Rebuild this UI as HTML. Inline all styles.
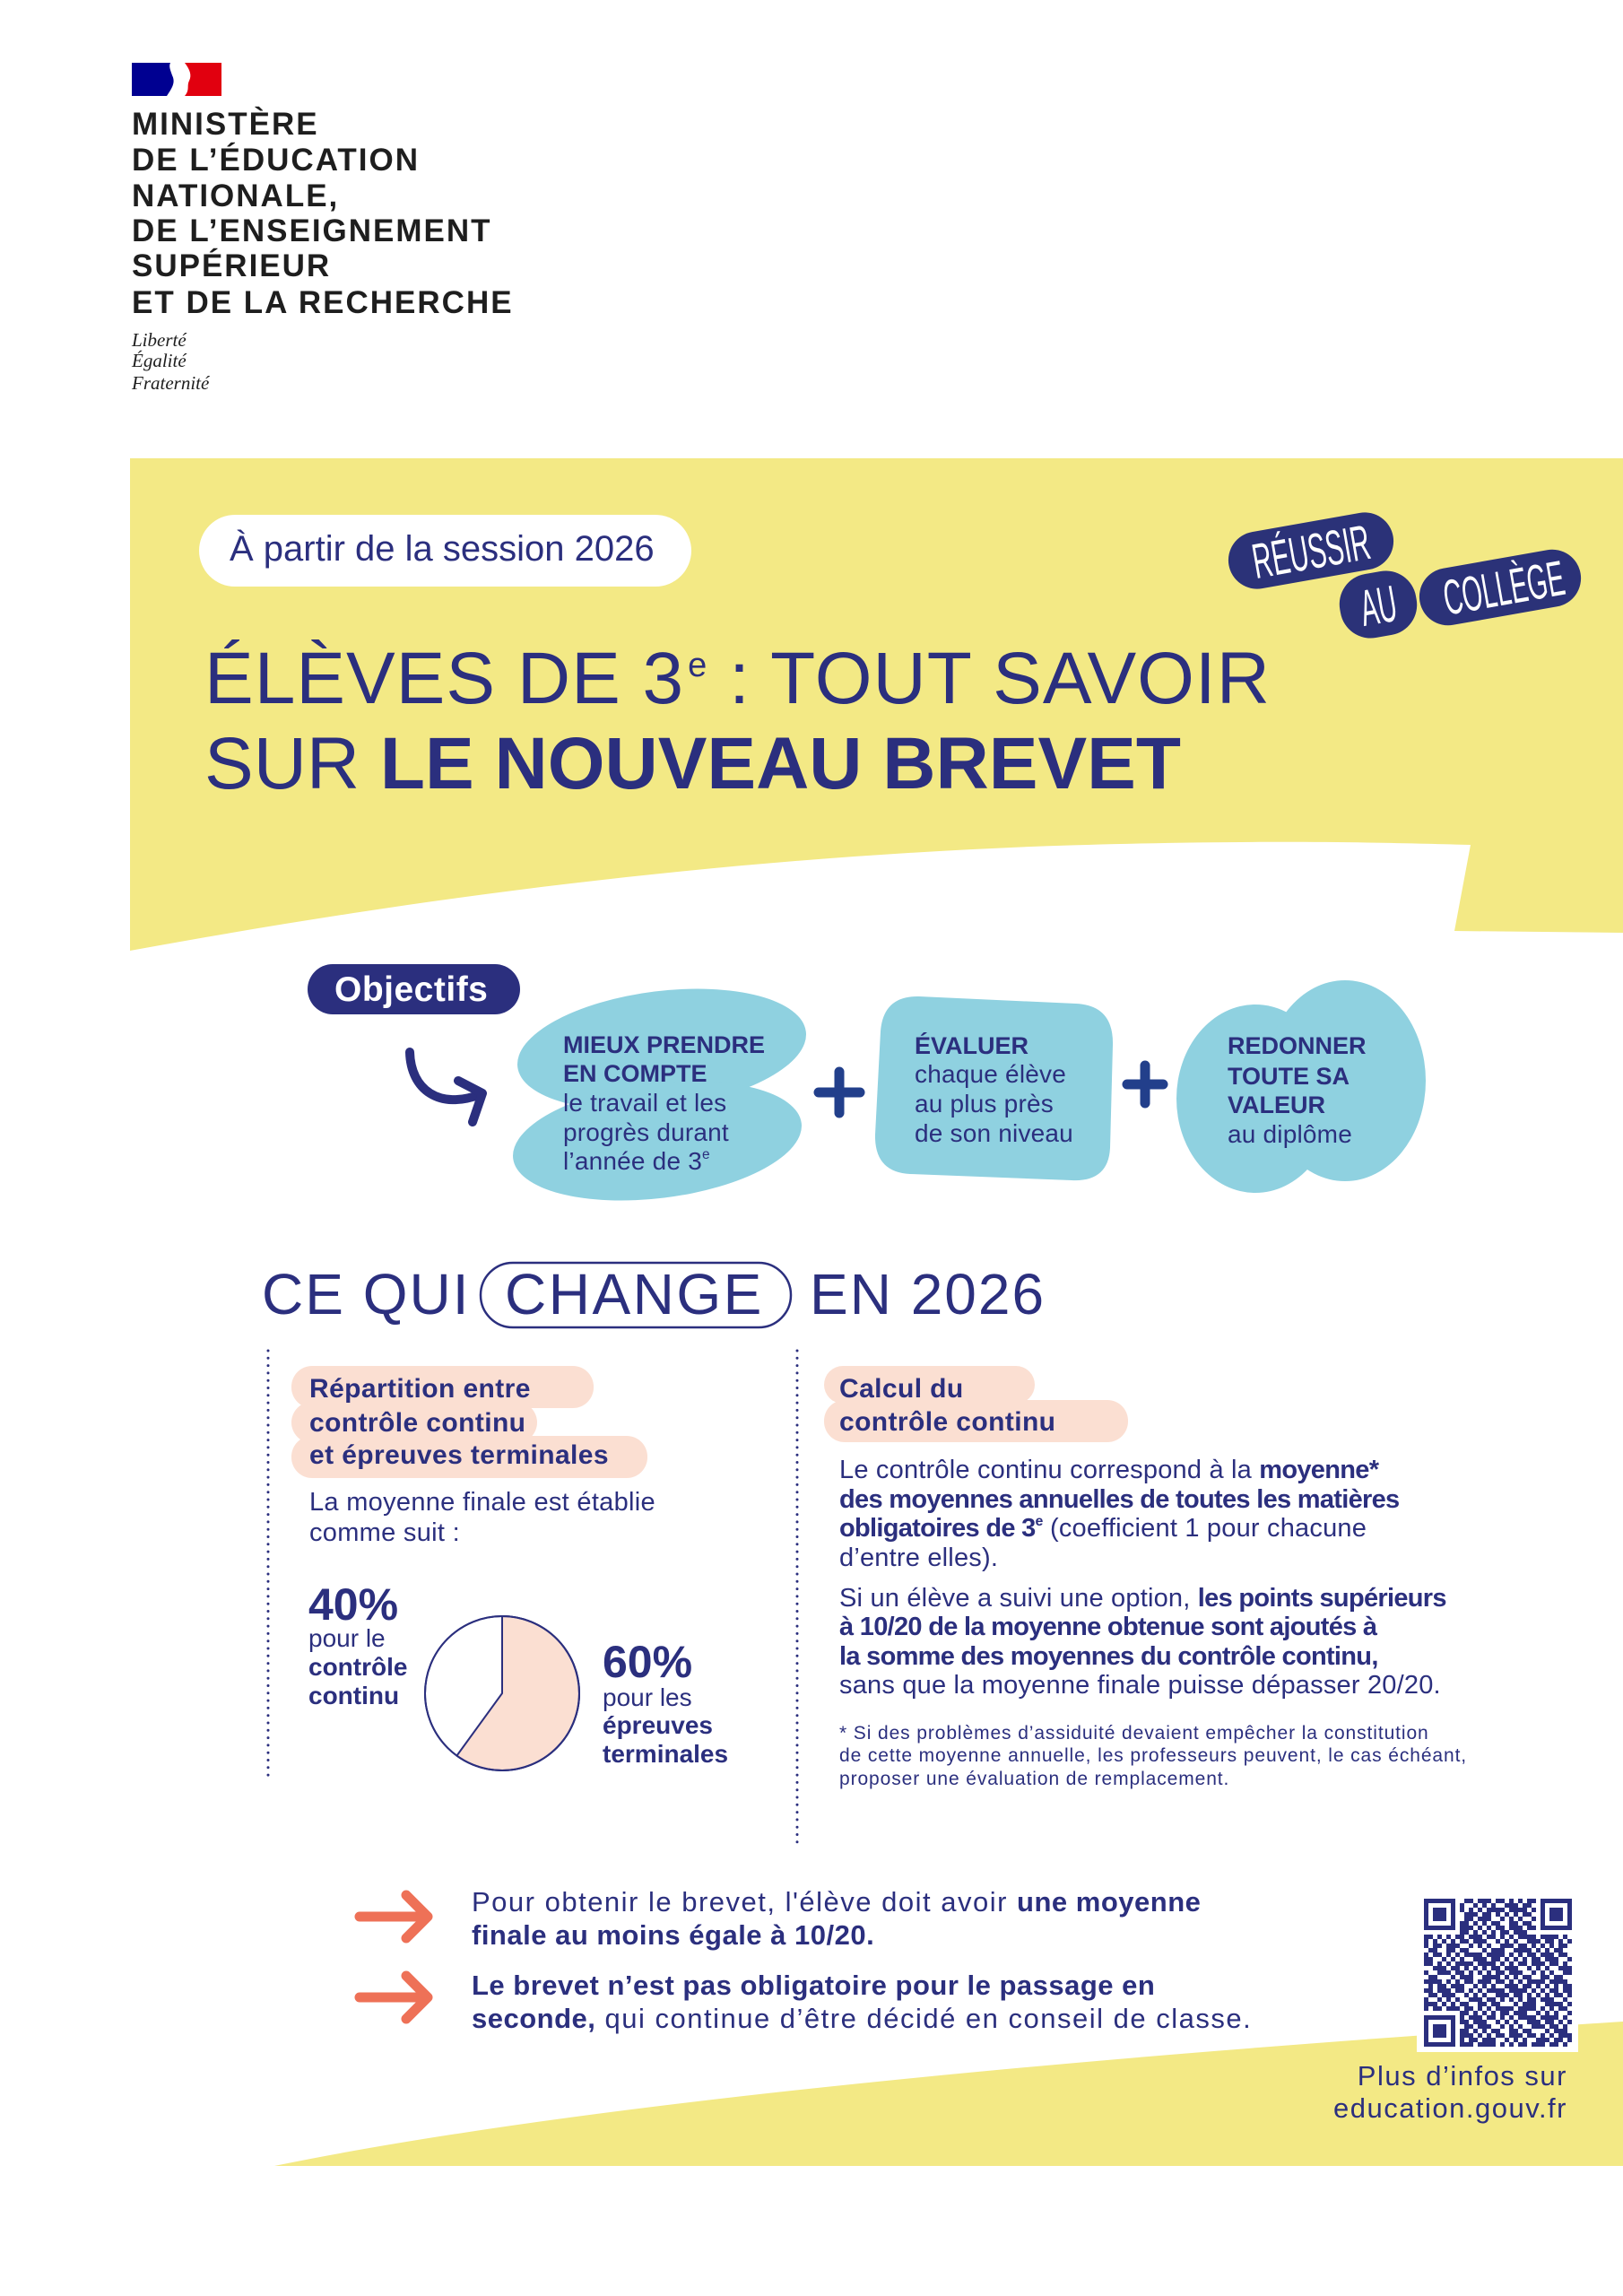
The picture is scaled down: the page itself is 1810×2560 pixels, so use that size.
<!DOCTYPE html>
<html><head><meta charset="utf-8">
<style>
body{margin:0;padding:0;background:#fff}
#p{position:relative;width:1810px;height:2560px;overflow:hidden;background:#fff;font-family:"Liberation Sans",sans-serif;color:#2b2f7e}
.t{position:absolute;white-space:nowrap;line-height:1}
.lg{font-size:35px;font-weight:700;letter-spacing:2px;color:#1e1e1e;left:147px}
.dv{font-family:"Liberation Serif",serif;font-style:italic;font-size:21px;color:#1e1e1e;left:147px}
.bb{font-size:27px;font-weight:700}
.br{font-size:28px;letter-spacing:0.2px}
.pk{font-size:30px;font-weight:700;letter-spacing:0.4px}
.rp{font-size:29px;letter-spacing:0.2px}
.rp b{letter-spacing:-0.7px}
.fn{font-size:21px;letter-spacing:0.9px;left:936px}
.bt{font-size:31px;letter-spacing:1.5px;left:526px}
.bt b{letter-spacing:0.5px}
.sp{font-size:0.55em;position:relative;top:-0.75em}
b{font-weight:700}
</style></head>
<body><div id="p">
<svg width="1810" height="2560" style="position:absolute;left:0;top:0" xmlns="http://www.w3.org/2000/svg">
<defs>
<pattern id="qa" x="1588" y="2117" width="35" height="30" patternUnits="userSpaceOnUse">
<g fill="#2b2f7e">
<rect x="0" y="0" width="5" height="5"/><rect x="10" y="0" width="5" height="5"/><rect x="15" y="0" width="5" height="5"/><rect x="25" y="0" width="5" height="5"/>
<rect x="5" y="5" width="5" height="5"/><rect x="20" y="5" width="5" height="5"/><rect x="30" y="5" width="5" height="5"/>
<rect x="0" y="10" width="5" height="5"/><rect x="5" y="10" width="5" height="5"/><rect x="15" y="10" width="5" height="5"/><rect x="25" y="10" width="5" height="5"/>
<rect x="10" y="15" width="5" height="5"/><rect x="20" y="15" width="5" height="5"/><rect x="30" y="15" width="5" height="5"/>
<rect x="0" y="20" width="5" height="5"/><rect x="15" y="20" width="5" height="5"/><rect x="25" y="20" width="5" height="5"/>
<rect x="5" y="25" width="5" height="5"/><rect x="10" y="25" width="5" height="5"/><rect x="30" y="25" width="5" height="5"/>
</g></pattern>
<pattern id="qb" x="1588" y="2117" width="20" height="35" patternUnits="userSpaceOnUse">
<g fill="#2b2f7e">
<rect x="5" y="0" width="5" height="5"/><rect x="15" y="5" width="5" height="5"/><rect x="0" y="10" width="5" height="5"/><rect x="10" y="15" width="5" height="5"/><rect x="5" y="20" width="5" height="5"/><rect x="15" y="25" width="5" height="5"/><rect x="0" y="30" width="5" height="5"/>
</g></pattern>
</defs>
<!-- flag -->
<rect x="147" y="70" width="52" height="37" fill="#000091"/>
<rect x="201" y="70" width="46" height="37" fill="#e1000f"/>
<path d="M190,70 L206,70 C212,78 214,84 211,90 C208,96 212,100 206,107 L186,107 C192,98 196,92 192,84 C190,78 188,74 190,70 Z" fill="#fff"/>
<!-- yellow top -->
<path d="M145,511 H1810 V1040 L1622,1038 L1640,942 C1560,940 1400,935 1150,944 C760,960 430,1008 145,1060 Z" fill="#f3e985"/>
<!-- yellow bottom -->
<path d="M306,2415 Q760,2322 1810,2254 V2415 Z" fill="#f3e985"/>
<!-- session pill -->
<rect x="222" y="574" width="549" height="80" rx="40" fill="#fff"/>
<!-- badges -->
<g transform="translate(1462,614) rotate(-10)">
<rect x="-93" y="-32" width="186" height="64" rx="32" fill="#2b3278"/>
<text x="0" y="20" text-anchor="middle" font-family="Liberation Sans, sans-serif" font-size="55" fill="#fff" textLength="132" lengthAdjust="spacingAndGlyphs">RÉUSSIR</text>
</g>
<g transform="translate(1673,655) rotate(-10)">
<rect x="-91" y="-32" width="182" height="64" rx="32" fill="#2b3278"/>
<text x="4" y="20" text-anchor="middle" font-family="Liberation Sans, sans-serif" font-size="55" fill="#fff" textLength="136" lengthAdjust="spacingAndGlyphs">COLLÈGE</text>
</g>
<g transform="translate(1537,674) rotate(-10)">
<rect x="-43" y="-36" width="86" height="72" rx="34" fill="#2b3278"/>
<text x="0" y="21" text-anchor="middle" font-family="Liberation Sans, sans-serif" font-size="57" fill="#fff" textLength="40" lengthAdjust="spacingAndGlyphs">AU</text>
</g>
<!-- objectifs pill -->
<rect x="343" y="1075" width="237" height="56" rx="28" fill="#2b2f7e"/>
<!-- curved arrow -->
<path d="M457,1173 C458,1215 490,1238 536,1220" stroke="#2b2f7e" stroke-width="10" fill="none" stroke-linecap="round"/>
<path d="M511,1205 L538,1219 L527,1251" stroke="#2b2f7e" stroke-width="10" fill="none" stroke-linecap="round" stroke-linejoin="round"/>
<!-- blobs -->
<g fill="#8fd1e0">
<ellipse cx="738" cy="1170" rx="162" ry="65" transform="rotate(-7 738 1170)"/>
<ellipse cx="733" cy="1272" rx="162" ry="64" transform="rotate(-7 733 1272)"/>
<path d="M1025,1111 L1200,1119 Q1242,1121 1241,1165 L1238,1280 Q1236,1318 1195,1316 L1015,1309 Q975,1307 976,1265 L982,1150 Q985,1110 1025,1111 Z"/>
<ellipse cx="1400" cy="1225" rx="88" ry="105"/>
<ellipse cx="1500" cy="1205" rx="90" ry="112"/>
</g>
<!-- plus signs -->
<g stroke="#223f8b" stroke-width="11" stroke-linecap="round">
<line x1="913" y1="1218" x2="959" y2="1218"/><line x1="936" y1="1195" x2="936" y2="1241"/>
<line x1="1257" y1="1209" x2="1297" y2="1209"/><line x1="1277" y1="1188" x2="1277" y2="1230"/>
</g>
<!-- CHANGE pill -->
<rect x="536" y="1408" width="346" height="72" rx="36" fill="none" stroke="#2b2f7e" stroke-width="2.5"/>
<!-- dotted lines -->
<line x1="299" y1="1506" x2="299" y2="1984" stroke="#2b2f7e" stroke-width="3" stroke-linecap="round" stroke-dasharray="0 8.3"/>
<line x1="889" y1="1506" x2="889" y2="2062" stroke="#2b2f7e" stroke-width="3" stroke-linecap="round" stroke-dasharray="0 8.3"/>
<!-- peach labels -->
<g fill="#fbdfd2">
<rect x="325" y="1523" width="337" height="47" rx="23"/>
<rect x="325" y="1563" width="274" height="46" rx="23"/>
<rect x="325" y="1601" width="397" height="47" rx="23"/>
<rect x="919" y="1523" width="235" height="42" rx="21"/>
<rect x="919" y="1561" width="339" height="47" rx="23"/>
</g>
<!-- pie -->
<circle cx="560" cy="1888" r="86" fill="#fff" stroke="#2b2f7e" stroke-width="2"/>
<path d="M560,1888 L560,1802 A86,86 0 1,1 509.4,1957.6 Z" fill="#fbdfd2" stroke="#2b2f7e" stroke-width="2" stroke-linejoin="round"/>
<circle cx="560" cy="1888" r="86" fill="none" stroke="#2b2f7e" stroke-width="2"/>
<!-- orange arrows -->
<g stroke="#ee7157" stroke-width="11" fill="none" stroke-linecap="round" stroke-linejoin="round">
<path d="M401,2137 H475 M453,2113 L477,2137 L453,2161"/>
<path d="M401,2227 H475 M453,2203 L477,2227 L453,2251"/>
</g>
<!-- QR -->
<rect x="1580" y="2108" width="180" height="180" fill="#fff"/>
<rect x="1588" y="2117" width="165" height="165" fill="url(#qa)"/>
<rect x="1588" y="2117" width="165" height="165" fill="url(#qb)"/>
<g>
<rect x="1588" y="2117" width="40" height="40" fill="#fff"/>
<rect x="1588" y="2117" width="35" height="35" fill="#2b2f7e"/>
<rect x="1593" y="2122" width="25" height="25" fill="#fff"/>
<rect x="1598" y="2127" width="15" height="15" fill="#2b2f7e"/>
<rect x="1713" y="2117" width="40" height="40" fill="#fff"/>
<rect x="1718" y="2117" width="35" height="35" fill="#2b2f7e"/>
<rect x="1723" y="2122" width="25" height="25" fill="#fff"/>
<rect x="1728" y="2127" width="15" height="15" fill="#2b2f7e"/>
<rect x="1588" y="2242" width="40" height="40" fill="#fff"/>
<rect x="1588" y="2247" width="35" height="35" fill="#2b2f7e"/>
<rect x="1593" y="2252" width="25" height="25" fill="#fff"/>
<rect x="1598" y="2257" width="15" height="15" fill="#2b2f7e"/>
</g>
</svg>

<!-- logo text -->
<div class="t lg" style="top:121px">MINISTÈRE</div>
<div class="t lg" style="top:161px">DE L’ÉDUCATION</div>
<div class="t lg" style="top:201px">NATIONALE,</div>
<div class="t lg" style="top:240px">DE L’ENSEIGNEMENT</div>
<div class="t lg" style="top:279px">SUPÉRIEUR</div>
<div class="t lg" style="top:320px">ET DE LA RECHERCHE</div>
<div class="t dv" style="top:369px">Liberté</div>
<div class="t dv" style="top:392px">Égalité</div>
<div class="t dv" style="top:417px">Fraternité</div>

<!-- header -->
<div class="t" style="left:256px;top:592px;font-size:40px">À partir de la session 2026</div>
<div class="t" style="left:228px;top:716px;font-size:82px;letter-spacing:1px">ÉLÈVES DE 3<span style="font-size:38px;position:relative;top:-30px;margin-left:4px">e</span> : TOUT SAVOIR</div>
<div class="t" style="left:228px;top:811px;font-size:82px">SUR <b>LE NOUVEAU BREVET</b></div>

<!-- objectifs -->
<div class="t" style="left:373px;top:1084px;font-size:39px;font-weight:700;color:#fff;letter-spacing:0.5px">Objectifs</div>

<div class="t bb" style="left:628px;top:1152px">MIEUX PRENDRE</div>
<div class="t bb" style="left:628px;top:1184px">EN COMPTE</div>
<div class="t br" style="left:628px;top:1216px">le travail et les</div>
<div class="t br" style="left:628px;top:1249px">progrès durant</div>
<div class="t br" style="left:628px;top:1281px">l’année de 3<span class="sp">e</span></div>

<div class="t bb" style="left:1020px;top:1153px">ÉVALUER</div>
<div class="t br" style="left:1020px;top:1184px">chaque élève</div>
<div class="t br" style="left:1020px;top:1217px">au plus près</div>
<div class="t br" style="left:1020px;top:1250px">de son niveau</div>

<div class="t bb" style="left:1369px;top:1153px">REDONNER</div>
<div class="t bb" style="left:1369px;top:1187px">TOUTE SA</div>
<div class="t bb" style="left:1369px;top:1219px">VALEUR</div>
<div class="t br" style="left:1369px;top:1251px">au diplôme</div>

<!-- CE QUI CHANGE -->
<div class="t" style="left:292px;top:1411px;font-size:64px;letter-spacing:2px">CE QUI</div>
<div class="t" style="left:563px;top:1411px;font-size:64px;letter-spacing:2.5px">CHANGE</div>
<div class="t" style="left:903px;top:1411px;font-size:64px;letter-spacing:2px">EN 2026</div>

<!-- left column -->
<div class="t pk" style="left:345px;top:1534px">Répartition entre</div>
<div class="t pk" style="left:345px;top:1572px">contrôle continu</div>
<div class="t pk" style="left:345px;top:1608px">et épreuves terminales</div>
<div class="t" style="left:345px;top:1661px;font-size:29px;letter-spacing:0.3px">La moyenne finale est établie</div>
<div class="t" style="left:345px;top:1695px;font-size:29px;letter-spacing:0.3px">comme suit :</div>

<div class="t" style="left:344px;top:1764px;font-size:50px;font-weight:700">40%</div>
<div class="t" style="left:344px;top:1813px;font-size:28px">pour le</div>
<div class="t" style="left:344px;top:1845px;font-size:28px;font-weight:700">contrôle</div>
<div class="t" style="left:344px;top:1877px;font-size:28px;font-weight:700">continu</div>

<div class="t" style="left:672px;top:1828px;font-size:50px;font-weight:700">60%</div>
<div class="t" style="left:672px;top:1879px;font-size:28px">pour les</div>
<div class="t" style="left:672px;top:1910px;font-size:28px;font-weight:700">épreuves</div>
<div class="t" style="left:672px;top:1942px;font-size:28px;font-weight:700">terminales</div>

<!-- right column -->
<div class="t pk" style="left:936px;top:1534px">Calcul du</div>
<div class="t pk" style="left:936px;top:1571px">contrôle continu</div>

<div class="t rp" style="left:936px;top:1625px">Le contrôle continu correspond à la <b>moyenne*</b></div>
<div class="t rp" style="left:936px;top:1658px"><b>des moyennes annuelles de toutes les matières</b></div>
<div class="t rp" style="left:936px;top:1690px"><b>obligatoires de 3<span class="sp">e</span></b> (coefficient 1 pour chacune</div>
<div class="t rp" style="left:936px;top:1723px">d’entre elles).</div>
<div class="t rp" style="left:936px;top:1768px">Si un élève a suivi une option, <b>les points supérieurs</b></div>
<div class="t rp" style="left:936px;top:1800px"><b>à 10/20 de la moyenne obtenue sont ajoutés à</b></div>
<div class="t rp" style="left:936px;top:1833px"><b>la somme des moyennes du contrôle continu,</b></div>
<div class="t rp" style="left:936px;top:1865px">sans que la moyenne finale puisse dépasser 20/20.</div>

<div class="t fn" style="top:1922px">* Si des problèmes d’assiduité devaient empêcher la constitution</div>
<div class="t fn" style="top:1947px">de cette moyenne annuelle, les professeurs peuvent, le cas échéant,</div>
<div class="t fn" style="top:1973px">proposer une évaluation de remplacement.</div>

<!-- bottom -->
<div class="t bt" style="top:2105px">Pour obtenir le brevet, l'élève doit avoir <b>une moyenne</b></div>
<div class="t bt" style="top:2142px"><b>finale au moins égale à 10/20.</b></div>
<div class="t bt" style="top:2198px"><b>Le brevet n’est pas obligatoire pour le passage en</b></div>
<div class="t bt" style="top:2235px"><b>seconde,</b> qui continue d’être décidé en conseil de classe.</div>

<div class="t" style="right:62px;top:2299px;font-size:31px;letter-spacing:1.5px;text-align:right">Plus d’infos sur</div>
<div class="t" style="right:62px;top:2335px;font-size:31px;letter-spacing:1.5px;text-align:right">education.gouv.fr</div>
</div></body></html>
